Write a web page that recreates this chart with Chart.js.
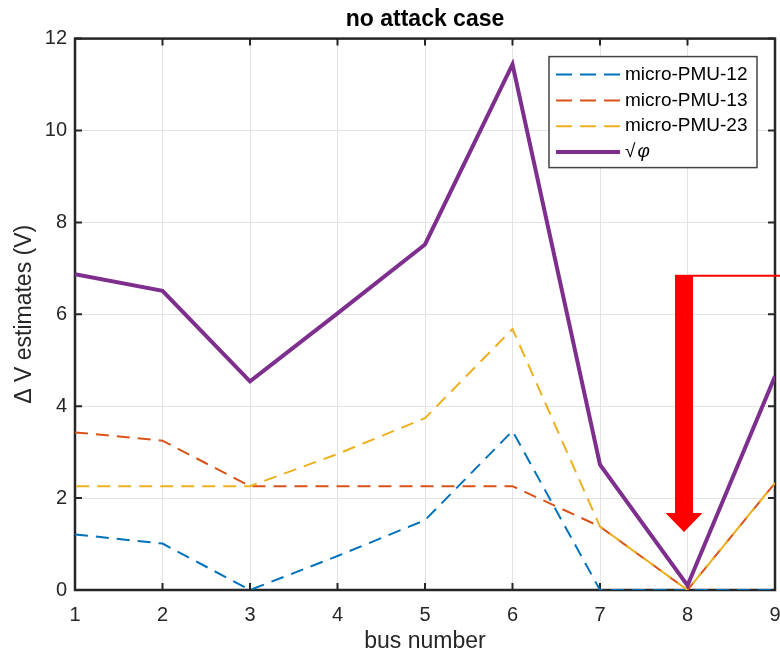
<!DOCTYPE html>
<html>
<head>
<meta charset="utf-8">
<script src="https://cdn.jsdelivr.net/npm/chart.js@4.4.0/dist/chart.umd.min.js"></script>
<style>
    html, body { margin: 0; padding: 0; background: #fff; overflow: hidden; }
    #wrap { width: 780px; height: 655px; overflow: hidden; }
    canvas { display: block; }
</style>
</head>
<body>
<div id="wrap"><canvas id="chart" width="800" height="655"></canvas></div>
<script>
const busNumbers = [1, 2, 3, 4, 5, 6, 7, 8, 9];
const pmu12 = [1.21, 1.01, 0, 0.74, 1.52, 3.46, 0, 0, 0];
const pmu13 = [3.43, 3.25, 2.26, 2.26, 2.26, 2.26, 1.38, 0, 2.33];
const pmu23 = [2.26, 2.26, 2.26, 2.96, 3.74, 5.68, 1.38, 0, 2.33];
const sqrtPhi = [6.87, 6.51, 4.54, 6.02, 7.52, 11.44, 2.73, 0.1, 4.65];
const yTicks = [0, 2, 4, 6, 8, 10, 12];

// red arrow annotation, in data units: bus position, top and tip
const arrowX = [7.96];
const arrowY = [6.86, 1.26];

const FONT = '"Liberation Sans", Arial, Helvetica, sans-serif';
Chart.defaults.font.family = FONT;
Chart.defaults.color = '#262626';

function toPoints(values) {
    return busNumbers.map((x, i) => ({ x: x, y: values[i] }));
}

// MATLAB style box with inward ticks
const boxPlugin = {
    id: 'matlabBox',
    beforeDatasetsDraw(chart) {
        const { ctx, chartArea: a, scales: { x, y } } = chart;
        const len = 7;
        ctx.save();
        ctx.strokeStyle = '#262626';
        ctx.lineWidth = 2;
        ctx.beginPath();
        x.ticks.forEach(t => {
            const px = x.getPixelForValue(t.value);
            ctx.moveTo(px, a.bottom); ctx.lineTo(px, a.bottom - len);
            ctx.moveTo(px, a.top); ctx.lineTo(px, a.top + len);
        });
        y.ticks.forEach(t => {
            const py = y.getPixelForValue(t.value);
            ctx.moveTo(a.left, py); ctx.lineTo(a.left + len, py);
            ctx.moveTo(a.right, py); ctx.lineTo(a.right - len, py);
        });
        ctx.stroke();
        ctx.lineWidth = 2.5;
        ctx.strokeRect(a.left, a.top, a.right - a.left, a.bottom - a.top);
        ctx.restore();
    }
};

const arrowPlugin = {
    id: 'redArrow',
    afterDatasetsDraw(chart) {
        const { ctx, scales: { x, y } } = chart;
        const cx = x.getPixelForValue(arrowX[0]);
        const top = y.getPixelForValue(arrowY[0]);
        const tip = y.getPixelForValue(arrowY[1]);
        const headLen = 19;
        ctx.save();
        ctx.fillStyle = '#FF0000';
        ctx.fillRect(cx - 9, top, 18, tip - headLen - top);
        ctx.beginPath();
        ctx.moveTo(cx - 18.5, tip - headLen);
        ctx.lineTo(cx + 18.5, tip - headLen);
        ctx.lineTo(cx, tip);
        ctx.closePath();
        ctx.fill();
        ctx.strokeStyle = '#FF0000';
        ctx.lineWidth = 2;
        ctx.beginPath();
        ctx.moveTo(cx + 9, top + 1);
        ctx.lineTo(chart.width, top + 1);
        ctx.stroke();
        ctx.restore();
    }
};

const legendPlugin = {
    id: 'boxLegend',
    afterDraw(chart) {
        const { ctx, chartArea: a } = chart;
        const w = 208, h = 111;
        const left = a.right - 18 - w;
        const top = a.top + 18;
        ctx.save();
        ctx.fillStyle = '#fff';
        ctx.fillRect(left, top, w, h);
        ctx.strokeStyle = '#444';
        ctx.lineWidth = 1.5;
        ctx.strokeRect(left, top, w, h);
        chart.data.datasets.forEach((ds, i) => {
            const rowY = top + 18 + i * 25.8;
            ctx.strokeStyle = ds.borderColor;
            ctx.lineWidth = ds.borderWidth;
            ctx.setLineDash(ds.borderDash ? [16, 8] : []);
            ctx.beginPath();
            ctx.moveTo(left + 7, rowY);
            ctx.lineTo(left + 71, rowY);
            ctx.stroke();
            ctx.setLineDash([]);
            ctx.fillStyle = '#000';
            ctx.textBaseline = 'middle';
            ctx.textAlign = 'left';
            ctx.font = '19px ' + FONT;
            const tx = left + 76;
            if (ds.label === '√φ') {
                ctx.fillText('√', tx, rowY);
                const sw = ctx.measureText('√').width;
                ctx.font = 'italic 19px ' + FONT;
                ctx.fillText('φ', tx + sw + 2, rowY);
            } else {
                ctx.fillText(ds.label, tx, rowY);
            }
        });
        ctx.restore();
    }
};

new Chart(document.getElementById('chart').getContext('2d'), {
    type: 'line',
    data: {
        datasets: [
            { label: 'micro-PMU-12', data: toPoints(pmu12), borderColor: '#0072BD', borderWidth: 2, borderDash: [13, 8], order: 3 },
            { label: 'micro-PMU-13', data: toPoints(pmu13), borderColor: '#D95319', borderWidth: 2, borderDash: [13, 8], order: 2 },
            { label: 'micro-PMU-23', data: toPoints(pmu23), borderColor: '#EDB120', borderWidth: 2, borderDash: [13, 8], borderDashOffset: 19.8, order: 1 },
            { label: '√φ', data: toPoints(sqrtPhi), borderColor: '#7E2F8E', borderWidth: 4, order: 0 }
        ]
    },
    options: {
        responsive: false,
        animation: false,
        devicePixelRatio: 1,
        layout: { padding: { left: 0, right: 25, top: 0, bottom: 0 } },
        elements: {
            point: { radius: 0, hoverRadius: 0 },
            line: { tension: 0, fill: false, borderJoinStyle: 'miter', borderCapStyle: 'butt' }
        },
        plugins: {
            legend: { display: false },
            tooltip: { enabled: false },
            title: {
                display: true,
                fullSize: false,
                text: 'no attack case',
                color: '#000',
                font: { size: 23, weight: 'bold' },
                padding: { top: 6, bottom: 5 }
            }
        },
        scales: {
            x: {
                type: 'linear',
                min: 1,
                max: 9,
                ticks: { stepSize: 1, padding: 13, font: { size: 20 }, color: '#262626' },
                grid: { color: '#e3e3e3', lineWidth: 1, drawTicks: false },
                border: { display: false },
                title: { display: true, text: 'bus number', font: { size: 23 }, color: '#262626', padding: { top: 0, bottom: 0 } },
                afterFit(scale) { scale.height = 65; }
            },
            y: {
                min: 0,
                max: 12,
                afterBuildTicks(scale) { scale.ticks = yTicks.map(v => ({ value: v })); },
                ticks: { padding: 8, font: { size: 20 }, color: '#262626' },
                grid: { color: '#e3e3e3', lineWidth: 1, drawTicks: false },
                border: { display: false },
                title: { display: true, text: 'Δ V estimates (V)', font: { size: 23 }, color: '#262626', padding: { top: 11, bottom: 0 } },
                afterFit(scale) { scale.width = 75; }
            }
        }
    },
    plugins: [boxPlugin, arrowPlugin, legendPlugin]
});
</script>
</body>
</html>
